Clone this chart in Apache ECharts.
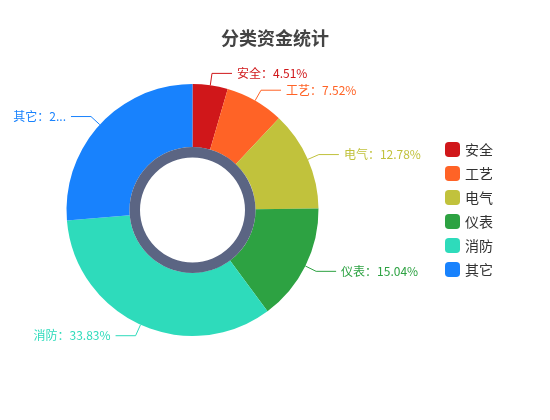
<!DOCTYPE html>
<html>
<head>
<meta charset="utf-8">
<script src="https://cdn.jsdelivr.net/npm/echarts@6/dist/echarts.min.js"></script>
<style>
  html, body { margin: 0; padding: 0; background: #fff; }
  #container { width: 550px; height: 420px; }
</style>
</head>
<body>
<div id="container"></div>
<script>
// 分类资金 数据
var categories = ['安全', '工艺', '电气', '仪表', '消防', '其它'];
var amounts = [6, 10, 17, 20, 45, 35];
var colors = ['#D0171A', '#FF6326', '#C1C23C', '#2DA242', '#2EDBBB', '#1882FD'];

var dom = document.getElementById('container');
var myChart = echarts.init(dom);

var pieData = categories.map(function (name, i) {
    return { name: name, value: amounts[i] };
});

var option = {
    backgroundColor: '#fff',
    color: colors,
    textStyle: { fontFamily: 'Noto Sans CJK SC' },
    title: {
        text: '分类资金统计',
        left: 'center',
        top: 24,
        textStyle: { fontSize: 18, fontWeight: 'bold', color: '#444' }
    },
    legend: {
        orient: 'vertical',
        left: 440,
        top: 137,
        itemWidth: 15,
        itemHeight: 15,
        itemGap: 9,
        icon: 'roundRect',
        textStyle: { fontSize: 14, color: '#333' },
        data: categories
    },
    animation: false,
    series: [
        {
            type: 'pie',
            name: '分类资金',
            center: ['35%', '50%'],
            radius: ['30%', '60%'],
            startAngle: 90,
            data: pieData,
            label: {
                formatter: '{b}：{d}%',
                fontSize: 12,
                color: 'inherit'
            },
            labelLine: { length: 12, length2: 20 }
        },
        {
            type: 'pie',
            name: 'ring',
            silent: true,
            center: ['35%', '50%'],
            radius: ['25%', '30%'],
            label: { show: false },
            labelLine: { show: false },
            itemStyle: { color: '#5B6583' },
            data: [{ name: '', value: 1 }]
        }
    ]
};

myChart.setOption(option, true);
</script>
</body>
</html>
